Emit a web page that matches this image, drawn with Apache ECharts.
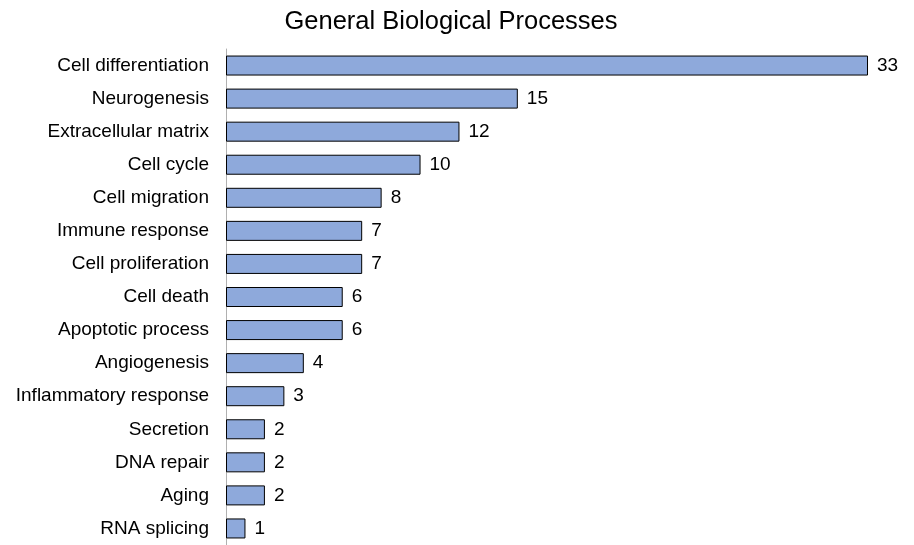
<!DOCTYPE html>
<html><head><meta charset="utf-8">
<script src="https://cdn.jsdelivr.net/npm/echarts@6/dist/echarts.min.js"></script>
<style>html,body{margin:0;padding:0;background:#fff}#c{width:914px;height:545px}</style>
</head><body><div id="c"></div>
<script>
const categories = ["Cell differentiation","Neurogenesis","Extracellular matrix","Cell cycle","Cell migration","Immune response","Cell proliferation","Cell death","Apoptotic process","Angiogenesis","Inflammatory response","Secretion","DNA repair","Aging","RNA splicing"];
const values = [33,15,12,10,8,7,7,6,6,4,3,2,2,2,1];
const chart = echarts.init(document.getElementById('c'));
chart.setOption({
  animation:false,
  title:{text:'General Biological Processes',left:446,textAlign:'center',top:4,textStyle:{fontFamily:'Liberation Sans',fontSize:25.5,fontWeight:'normal',color:'#000'}},
  grid:{left:226,top:49,width:642,height:498},
  xAxis:{type:'value',min:0,max:33,show:false},
  yAxis:{type:'category',data:categories,inverse:true,
    axisLine:{show:true,lineStyle:{color:'#b0b0b0',width:1}},
    axisTick:{show:false},
    axisLabel:{margin:17,fontFamily:'Liberation Sans',fontSize:19,color:'#000'}},
  series:[{type:'bar',data:values,barWidth:20,
    itemStyle:{color:'#8EA9DB',borderColor:'#000',borderWidth:1},
    label:{show:true,position:'right',distance:9,fontFamily:'Liberation Sans',fontSize:19,color:'#000'}}]
});
</script></body></html>
